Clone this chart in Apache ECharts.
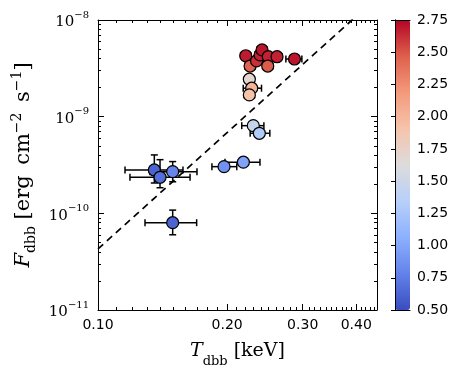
<!DOCTYPE html>
<html><head><meta charset="utf-8">
<script src="https://cdn.jsdelivr.net/npm/echarts@6/dist/echarts.min.js"></script>
<style>html,body{margin:0;padding:0;background:#fff}#c{width:463px;height:380px}</style>
</head><body><div id="c"></div>
<script>
// ---- data ----
const tempKeV = [0.1353,0.1395,0.1493,0.1493,0.1967,0.2182,0.2301,0.2377,0.2253,0.2282,0.2253,0.2210,0.2262,0.2342,0.2386,0.2412,0.2494,0.2487,0.2614,0.2871];
const tempLo  = [0.1156,0.1187,0.1322,0.1287,0.1843,0.1977,0.2163,0.2263,0.2200,0.2180,0.2195,0.2150,0.2200,0.2280,0.2320,0.2345,0.2425,0.2420,0.2545,0.2741];
const tempHi  = [0.1578,0.1639,0.1701,0.1698,0.2106,0.2385,0.2436,0.2515,0.2310,0.2405,0.2315,0.2270,0.2325,0.2405,0.2450,0.2480,0.2565,0.2555,0.2685,0.2987];
const fluxCgs = [2.81e-10,2.36e-10,2.70e-10,8.0e-11,3.04e-10,3.38e-10,8.07e-10,6.73e-10,2.44e-9,1.97e-9,1.68e-9,4.27e-9,3.34e-9,3.77e-9,4.35e-9,4.90e-9,4.17e-9,3.34e-9,4.17e-9,3.95e-9];
const fluxLo  = [2.06e-10,1.84e-10,2.12e-10,6.0e-11,2.85e-10,3.2e-10,7.6e-10,6.3e-10,2.3e-9,1.85e-9,1.57e-9,4.0e-9,3.12e-9,3.52e-9,4.05e-9,4.55e-9,3.9e-9,3.12e-9,3.9e-9,3.7e-9];
const fluxHi  = [4.02e-10,3.59e-10,3.43e-10,1.08e-10,3.25e-10,3.55e-10,8.6e-10,7.2e-10,2.6e-9,2.1e-9,1.8e-9,4.55e-9,3.58e-9,4.05e-9,4.65e-9,5.25e-9,4.45e-9,3.58e-9,4.45e-9,4.2e-9];
const colorVal = [0.62,0.68,0.80,0.62,0.88,0.98,1.45,1.30,1.70,2.02,1.92,2.68,2.45,2.62,2.66,2.70,2.66,2.48,2.66,2.70];
const lineT = [0.10, 0.447];
const lineF = [4.28e-11, 1.71e-8];
const xMajor = [0.10, 0.20, 0.30, 0.40];
const xMinor = [0.11,0.12,0.13,0.14,0.15,0.16,0.17,0.18,0.19,0.21,0.22,0.23,0.24,0.25,0.26,0.27,0.28,0.29,0.31,0.32,0.33,0.34,0.35,0.36,0.37,0.38,0.39,0.41,0.42,0.43,0.44];
const yMajor = [1e-11, 1e-10, 1e-9, 1e-8];
const yMinor = [2e-11,3e-11,4e-11,5e-11,6e-11,7e-11,8e-11,9e-11,2e-10,3e-10,4e-10,5e-10,6e-10,7e-10,8e-10,9e-10,2e-9,3e-9,4e-9,5e-9,6e-9,7e-9,8e-9,9e-9];
const cbarColors = ['#3b4cc0','#6282ea','#8db0fe','#b8d0f9','#dddcdc','#f5c4ac','#f49a7b','#de604d','#b40426'];

const chart = echarts.init(document.getElementById('c'), null, {renderer:'canvas'});
const sans = 'DejaVu Sans';
const serif = 'DejaVu Serif';
const X0 = 0.1, X1 = 0.447, Y0 = 1e-11, Y1 = 1e-8;

function xAx(pos, ticks, len, labels, line) {
  return {type:'log', logBase:10, gridIndex:0, position:pos, min:X0, max:X1,
    axisLine:{show:line, lineStyle:{color:'#000', width:1}},
    axisTick:{show:true, inside:true, length:len, customValues:ticks, lineStyle:{color:'#000', width:1}},
    axisLabel:{show:labels, customValues:ticks, color:'#000', fontFamily:sans, fontSize:14, margin:8, formatter:v=>Number(v).toFixed(2)},
    splitLine:{show:false}, minorTick:{show:false}};
}
function yAx(pos, ticks, len, labels, line) {
  return {type:'log', logBase:10, gridIndex:0, position:pos, min:Y0, max:Y1,
    axisLine:{show:line, lineStyle:{color:'#000', width:1}},
    axisTick:{show:true, inside:true, length:len, customValues:ticks, lineStyle:{color:'#000', width:1}},
    axisLabel:{show:labels, customValues:ticks, margin:9,
      formatter:v=>'{b|10}{s|\u2212' + Math.abs(Math.round(Math.log10(v))) + '}',
      rich:{b:{fontFamily:serif, fontSize:15, color:'#000', lineHeight:20, verticalAlign:'bottom'},
            s:{fontFamily:serif, fontSize:10, color:'#000', lineHeight:10, verticalAlign:'top'}}},
    splitLine:{show:false}, minorTick:{show:false}};
}

const xb = xAx('bottom', xMajor, 6, true, true);
xb.name = '{i|T}{sub|dbb}{n| [keV]}';
xb.nameLocation = 'middle';
xb.nameGap = 32;
xb.nameTextStyle = {rich:{
  i:{fontFamily:serif, fontStyle:'italic', fontSize:19, color:'#000', lineHeight:26, verticalAlign:'top'},
  sub:{fontFamily:serif, fontSize:13, color:'#000', lineHeight:13, verticalAlign:'bottom'},
  n:{fontFamily:serif, fontSize:19, color:'#000', lineHeight:26, verticalAlign:'top'}}};

const yl = yAx('left', yMajor, 6, true, true);
yl.name = '{i|F}{sub|dbb}{n| [erg\u2002cm}{sup|\u22122}{n|\u2002s}{sup|\u22121}{n|]}';
yl.nameLocation = 'middle';
yl.nameGap = 50;
yl.nameRotate = 90;
yl.nameTextStyle = {rich:{
  i:{fontFamily:serif, fontStyle:'italic', fontSize:21, color:'#000', lineHeight:28, verticalAlign:'middle'},
  sub:{fontFamily:serif, fontSize:14, color:'#000', lineHeight:14, verticalAlign:'bottom'},
  sup:{fontFamily:serif, fontSize:14, color:'#000', lineHeight:14, verticalAlign:'top'},
  n:{fontFamily:serif, fontSize:21, color:'#000', lineHeight:28, verticalAlign:'middle'}}};

const scatterData = tempKeV.map((t,i)=>[t, fluxCgs[i], colorVal[i]]);
const errData = tempKeV.map((t,i)=>[t, tempLo[i], tempHi[i], fluxCgs[i], fluxLo[i], fluxHi[i]]);

const option = {
  animation:false,
  backgroundColor:'#fff',
  grid:[{left:98, top:20, width:279, height:290, containLabel:false},
        {left:395, top:20, width:15, height:290, containLabel:false}],
  xAxis:[xb, xAx('bottom', xMinor, 3, false, false), xAx('top', xMajor, 6, false, true), xAx('top', xMinor, 3, false, false),
    {type:'value', gridIndex:1, position:'bottom', min:0, max:1, z:10, axisLine:{show:true, lineStyle:{color:'#000'}}, axisTick:{show:false}, axisLabel:{show:false}, splitLine:{show:false}},
    {type:'value', gridIndex:1, position:'top', min:0, max:1, z:10, axisLine:{show:true, lineStyle:{color:'#000'}}, axisTick:{show:false}, axisLabel:{show:false}, splitLine:{show:false}}],
  yAxis:[yl, yAx('left', yMinor, 3, false, false), yAx('right', yMajor, 6, false, true), yAx('right', yMinor, 3, false, false),
    {type:'value', gridIndex:1, position:'right', min:0.5, max:2.75, interval:0.25, z:10,
      axisLine:{show:true, lineStyle:{color:'#000'}},
      axisTick:{show:true, inside:true, length:4, lineStyle:{color:'#000'}},
      axisLabel:{color:'#000', fontFamily:sans, fontSize:14, margin:7, formatter:v=>v.toFixed(2)},
      splitLine:{show:false}},
    {type:'value', gridIndex:1, position:'left', min:0.5, max:2.75, z:10, axisLine:{show:true, lineStyle:{color:'#000'}}, axisTick:{show:false}, axisLabel:{show:false}, splitLine:{show:false}}],
  visualMap:{type:'continuous', min:0.5, max:2.75, dimension:2, seriesIndex:2, calculable:false, hoverLink:false,
    orient:'vertical', left:395, top:20, itemWidth:15, itemHeight:290, padding:0, text:null, showLabel:false,
    inRange:{color:cbarColors}},
  series:[
    {type:'line', xAxisIndex:0, yAxisIndex:0, data:lineT.map((t,i)=>[t,lineF[i]]), symbol:'none', clip:true,
      lineStyle:{color:'#000', width:1.7, type:[7,5]}, z:1},
    {type:'custom', xAxisIndex:0, yAxisIndex:0, data:errData, z:2, clip:true,
      renderItem:(params, api)=>{
        const c = api.coord([api.value(0), api.value(3)]);
        const xl = api.coord([api.value(1), api.value(3)])[0];
        const xh = api.coord([api.value(2), api.value(3)])[0];
        const yl2 = api.coord([api.value(0), api.value(4)])[1];
        const yh = api.coord([api.value(0), api.value(5)])[1];
        const st = {stroke:'#000', lineWidth:1.5};
        const cap = 3.5;
        return {type:'group', children:[
          {type:'line', shape:{x1:xl, y1:c[1], x2:xh, y2:c[1]}, style:st},
          {type:'line', shape:{x1:xl, y1:c[1]-cap, x2:xl, y2:c[1]+cap}, style:st},
          {type:'line', shape:{x1:xh, y1:c[1]-cap, x2:xh, y2:c[1]+cap}, style:st},
          {type:'line', shape:{x1:c[0], y1:yl2, x2:c[0], y2:yh}, style:st},
          {type:'line', shape:{x1:c[0]-cap, y1:yl2, x2:c[0]+cap, y2:yl2}, style:st},
          {type:'line', shape:{x1:c[0]-cap, y1:yh, x2:c[0]+cap, y2:yh}, style:st}
        ]};
      }},
    {type:'scatter', xAxisIndex:0, yAxisIndex:0, data:scatterData, symbol:'circle', symbolSize:12, z:3,
      itemStyle:{borderColor:'#000', borderWidth:1.2, opacity:1}}
  ]
};
chart.setOption(option);
</script></body></html>
